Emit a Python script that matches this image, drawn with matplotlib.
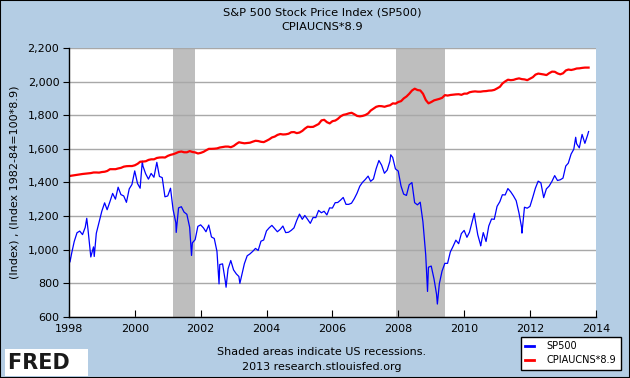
import pandas as pd
import matplotlib
matplotlib.use('Agg')
import matplotlib.pyplot as plt
import matplotlib.dates as mdates
from matplotlib.ticker import FuncFormatter, MultipleLocator

plt.rcParams['font.family'] = ['DejaVu Sans']

# S&P 500, monthly closes Jan 1998 .. Sep 2013
sp500_close = [
    980, 1049, 1101, 1111, 1090, 1133, 1120, 957, 1017, 1098, 1163, 1229,
    1279, 1238, 1286, 1335, 1301, 1372, 1328, 1320, 1282, 1362, 1388, 1469,
    1394, 1366, 1498, 1452, 1420, 1454, 1431, 1517, 1436, 1429, 1315, 1320,
    1366, 1240, 1160, 1249, 1256, 1224, 1211, 1134, 1041, 1060, 1139, 1148,
    1130, 1107, 1147, 1076, 1067, 990, 912, 916, 815, 886, 936, 880,
    856, 841, 848, 917, 964, 975, 990, 1008, 996, 1051, 1058, 1112,
    1131, 1145, 1126, 1107, 1121, 1141, 1102, 1104, 1115, 1130, 1174, 1212,
    1181, 1204, 1181, 1157, 1192, 1191, 1234, 1220, 1229, 1207, 1249, 1248,
    1280, 1281, 1295, 1311, 1270, 1270, 1277, 1304, 1336, 1378, 1401, 1418,
    1438, 1407, 1421, 1482, 1531, 1503, 1455, 1474, 1527, 1549, 1481, 1468,
    1379, 1331, 1323, 1386, 1400, 1280, 1267, 1283, 1166, 969, 896, 903,
    826, 735, 798, 873, 919, 919, 987, 1021, 1057, 1036, 1096, 1115,
    1074, 1104, 1169, 1187, 1089, 1031, 1102, 1049, 1141, 1183, 1181, 1258,
    1286, 1327, 1326, 1364, 1345, 1321, 1292, 1219, 1131, 1253, 1247, 1258,
    1312, 1366, 1408, 1398, 1310, 1362, 1379, 1407, 1441, 1412, 1416, 1426,
    1498, 1515, 1569, 1598, 1631, 1606, 1686, 1633, 1682,
]
# intra-month extremes seen on the chart
sp500_extra_dates = ['1998-01-02', '1998-01-12', '1998-07-17', '1998-10-08',
                     '2000-03-24', '2000-09-01', '2001-04-04', '2001-09-21',
                     '2002-07-23', '2002-10-09', '2003-03-11', '2007-10-09',
                     '2008-11-20', '2009-03-09', '2010-04-23', '2010-07-02',
                     '2011-04-29', '2011-10-03', '2013-05-21', '2013-10-11']
sp500_extra = [975, 927, 1187, 960, 1527, 1520, 1103, 966,
               797, 777, 800, 1565, 752, 677, 1217, 1023,
               1364, 1099, 1669, 1703]

# CPIAUCNS, monthly Jan 1998 .. Sep 2013
cpi = [
    161.6, 161.9, 162.2, 162.5, 162.8, 163.0, 163.2, 163.4, 163.6, 164.0, 164.0, 163.9,
    164.3, 164.5, 165.0, 166.2, 166.2, 166.2, 166.7, 167.1, 167.9, 168.2, 168.3, 168.3,
    168.8, 169.8, 171.2, 171.3, 171.5, 172.4, 172.8, 172.8, 173.7, 174.0, 174.1, 174.0,
    175.1, 175.8, 176.2, 176.9, 177.7, 178.0, 177.5, 177.5, 178.3, 177.7, 177.4, 176.7,
    177.1, 177.8, 178.8, 179.8, 179.8, 179.9, 180.1, 180.7, 181.0, 181.3, 181.3, 180.9,
    181.7, 183.1, 184.2, 183.8, 183.5, 183.7, 183.9, 184.6, 185.2, 185.0, 184.5, 184.3,
    185.2, 186.2, 187.4, 188.0, 189.1, 189.7, 189.4, 189.5, 189.9, 190.9, 191.0, 190.3,
    190.7, 191.8, 193.3, 194.6, 194.4, 194.5, 195.4, 196.4, 198.8, 199.2, 197.6, 196.8,
    198.3, 198.7, 199.8, 201.5, 202.5, 202.9, 203.5, 203.9, 202.9, 201.8, 201.5, 201.8,
    202.4, 203.5, 205.4, 206.7, 207.9, 208.4, 208.3, 207.9, 208.5, 208.9, 210.2, 210.0,
    211.1, 211.7, 213.5, 214.8, 216.6, 218.8, 220.0, 219.1, 218.8, 216.6, 212.4, 210.2,
    211.1, 212.2, 212.7, 213.2, 213.9, 215.7, 215.4, 215.8, 216.0, 216.2, 216.3, 215.9,
    216.7, 216.7, 217.6, 218.0, 218.2, 218.0, 218.0, 218.3, 218.4, 218.7, 218.8, 219.2,
    220.2, 221.3, 223.5, 224.9, 226.0, 225.7, 225.9, 226.5, 226.9, 226.4, 226.2, 225.7,
    226.7, 227.7, 229.4, 230.1, 229.8, 229.5, 229.1, 230.4, 231.4, 231.3, 230.2, 229.6,
    230.3, 232.2, 232.8, 232.5, 232.9, 233.5, 233.6, 233.9, 234.1,
]
cpi_scale = 8.9

recessions = [('2001-03-01', '2001-11-01'), ('2007-12-01', '2009-06-01')]

bg = '#b4cde4'

# build series
sp_month = pd.Series(sp500_close,
                     index=pd.date_range('1998-01-31', periods=len(sp500_close), freq='ME'))
sp_extra = pd.Series(sp500_extra, index=pd.to_datetime(sp500_extra_dates))
sp = pd.concat([sp_month, sp_extra]).sort_index()

cpi_s = pd.Series(cpi, index=pd.date_range('1998-01-01', periods=len(cpi), freq='MS')) * cpi_scale
cpi_s.loc[pd.Timestamp('2013-10-11')] = cpi_s.iloc[-1]

fig = plt.figure(figsize=(6.3, 3.78), dpi=100, facecolor=bg)
ax = fig.add_axes([0.1095, 0.1614, 0.8365, 0.7116])
ax.set_facecolor('white')

for a, b in recessions:
    ax.axvspan(pd.Timestamp(a), pd.Timestamp(b), color='#bebebe', lw=0, zorder=1)

ax.plot(sp.index, sp.values, color='#0000ff', lw=0.9, zorder=3, label='SP500')
ax.plot(cpi_s.index, cpi_s.values, color='#ff0000', lw=1.6, zorder=3,
        label='CPIAUCNS*8.9')

ax.set_xlim(pd.Timestamp('1998-01-01'), pd.Timestamp('2014-01-01'))
ax.set_ylim(600, 2200)
ax.yaxis.set_major_locator(MultipleLocator(200))
ax.yaxis.set_major_formatter(FuncFormatter(lambda v, p: f'{int(v):,}'))
ax.xaxis.set_major_locator(mdates.YearLocator(2))
ax.xaxis.set_major_formatter(mdates.DateFormatter('%Y'))

ax.grid(axis='y', color='#a8a8a8', lw=1, zorder=2)
for s in ['top', 'right']:
    ax.spines[s].set_visible(False)
for s in ['left', 'bottom']:
    ax.spines[s].set_color('black')
    ax.spines[s].set_linewidth(1)
    ax.spines[s].set_zorder(4)
ax.tick_params(axis='x', direction='in', length=5, labelsize=8, pad=5, color='black')
ax.tick_params(axis='y', direction='out', length=4, labelsize=8, pad=3, color='black')

ax.set_ylabel('(Index) , (Index 1982-84=100*8.9)', fontsize=8, labelpad=6)

fig.text(0.511, 0.968, 'S&P 500 Stock Price Index (SP500)', ha='center', va='center', fontsize=8.2)
fig.text(0.511, 0.928, 'CPIAUCNS*8.9', ha='center', va='center', fontsize=8.2)
fig.text(0.511, 0.068, 'Shaded areas indicate US recessions.', ha='center', va='center', fontsize=8)
fig.text(0.511, 0.028, '2013 research.stlouisfed.org', ha='center', va='center', fontsize=8)

# FRED logo
fig.text(0.013, 0.040, 'FRED  ', ha='left', va='center', fontsize=15, fontweight='bold',
         color='#1a1a1a', bbox=dict(facecolor='white', edgecolor='none', pad=2.5))

leg = fig.legend(loc='lower right', bbox_to_anchor=(0.994, 0.008), fontsize=7,
                 frameon=True, fancybox=False, edgecolor='black', framealpha=1,
                 handlelength=0.9, handletextpad=1.3, borderpad=0.5, labelspacing=0.4)
leg.get_frame().set_linewidth(1)
for h in leg.get_lines():
    h.set_linewidth(2)

fig.patches.append(plt.Rectangle((0, 0), 1, 1, transform=fig.transFigure,
                                 fill=False, edgecolor='black', lw=1.5))

fig.savefig('out.png', dpi=100, facecolor=bg)
